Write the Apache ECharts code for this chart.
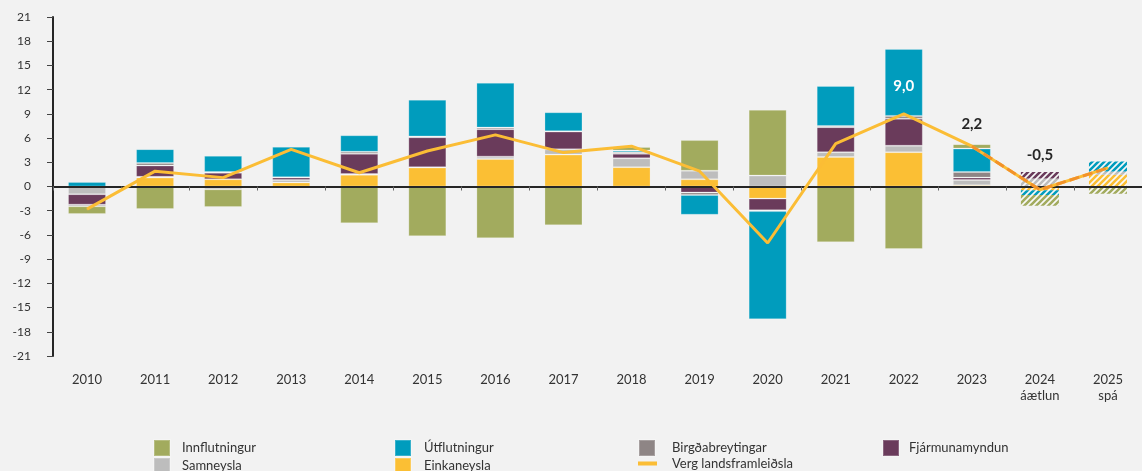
<!DOCTYPE html>
<html>
<head>
<meta charset="utf-8">
<script src="https://cdn.jsdelivr.net/npm/echarts@6/dist/echarts.min.js"></script>
<style>
  html, body { margin: 0; padding: 0; background: #f2f2f2; }
  #chart { width: 1142px; height: 471px; }
</style>
</head>
<body>
<div id="chart"></div>
<script>
const years = ['2010', '2011', '2012', '2013', '2014', '2015', '2016', '2017', '2018', '2019', '2020', '2021', '2022', '2023', '2024', '2025']
const yearNotes = ['', '', '', '', '', '', '', '', '', '', '', '', '', '', 'áætlun', 'spá']

// framlag til hagvaxtar, % stig
const einkaneysla = [0, 1.1, 0.9, 0.5, 1.45, 2.35, 3.4, 3.95, 2.4, 0.9, -1.5, 3.65, 4.25, 0.15, -0.45, 1.45]
const samneysla = [-0.95, 0.1, -0.35, 0.3, 0.1, 0.05, 0.3, 0.65, 1.1, 1.05, 1.35, 0.6, 0.8, 0.65, 1.0, 0.4]
const fjarmunamyndun = [-1.3, 1.4, 0.8, 0.3, 2.5, 3.7, 3.4, 2.2, 0.55, -0.75, -1.45, 3.1, 3.35, 0.3, 0.8, 0]
const birgdabreytingar = [-0.2, 0.3, 0.1, 0.05, 0.25, 0.1, 0.2, 0.05, 0.2, -0.3, -0.1, 0.15, 0.35, 0.7, 0, 0]
const utflutningur = [0.55, 1.73, 2.0, 3.77, 2.05, 4.55, 5.55, 2.35, 0.2, -2.45, -13.4, 4.95, 8.3, 2.9, -0.6, 1.25]
const innflutningur = [-0.95, -2.8, -2.2, -0.25, -4.55, -6.15, -6.4, -4.8, 0.45, 3.8, 8.15, -6.9, -7.75, 0.55, -1.35, -0.9]
const vlf = [-2.8, 1.9, 1.1, 4.6, 1.7, 4.4, 6.4, 4.2, 5.0, 1.9, -7.0, 5.3, 9.0, 5.0, -0.4, 2.3]
const vlfLabels = ['', '', '', '', '', '', '', '', '', '', '', '', '9,0', '2,2', '-0,5', '']

const yTicks = { min: -21, max: 21, step: 3 }

const FONT = 'Lato, "Open Sans", sans-serif'
const colors = {
  innflutningur: '#a2ab5e',
  utflutningur: '#009cbd',
  birgdabreytingar: '#8e8585',
  fjarmunamyndun: '#6a3b5b',
  samneysla: '#bdbdbd',
  einkaneysla: '#fbbf34',
  vlf: '#fbbd35',
}

function hatch(color) {
  // diagonal stripes for the estimate / forecast years
  const s = 6
  const c = document.createElement('canvas')
  c.width = s
  c.height = s
  const g = c.getContext('2d')
  g.fillStyle = '#f8f8f8'
  g.fillRect(0, 0, s, s)
  g.strokeStyle = color
  g.lineWidth = 2.6
  g.beginPath()
  g.moveTo(-1, s + 1); g.lineTo(s + 1, -1)
  g.moveTo(-1, 1); g.lineTo(1, -1)
  g.moveTo(s - 1, s + 1); g.lineTo(s + 1, s - 1)
  g.stroke()
  return { image: c, repeat: 'repeat' }
}

function barSeries(name, values, color) {
  const pattern = hatch(color)
  return {
    name,
    type: 'bar',
    stack: 'framlag',
    xAxisIndex: 0,
    barWidth: 38,
    itemStyle: { color, borderColor: 'rgba(255,255,255,0.22)', borderWidth: 1 },
    data: values.map((v, i) => yearNotes[i]
      ? { value: v, itemStyle: { color: pattern, borderWidth: 0 } }
      : v),
  }
}

const labelOffsets = { '9,0': -20, '2,2': -14, '-0,5': -27 }

function legendText(gap) {
  return { fontFamily: FONT, fontSize: 13, color: '#333', padding: [0, 0, 12, gap] }
}

function legend(name, left, top, extra) {
  return Object.assign({
    data: [name],
    left, top,
    padding: 0,
    icon: 'rect',
    itemWidth: 16,
    itemHeight: 16,
    selectedMode: false,
    textStyle: legendText(7),
  }, extra || {})
}

const chart = echarts.init(document.getElementById('chart'))
chart.setOption({
  backgroundColor: '#f2f2f2',
  animation: false,
  textStyle: { fontFamily: FONT },
  grid: { left: 53, top: 17, width: 1104, height: 339 },
  legend: [
    legend('Innflutningur', 153, 439),
    legend('Samneysla', 153, 457),
    legend('Útflutningur', 394, 439, { textStyle: legendText(8) }),
    legend('Einkaneysla', 394, 457, { textStyle: legendText(8) }),
    legend('Birgðabreytingar', 638, 439, { textStyle: legendText(12) }),
    legend('Verg landsframleiðsla', 638, 457, {
      itemWidth: 19, itemHeight: 4,
      itemStyle: { color: colors.vlf },
      textStyle: { fontFamily: FONT, fontSize: 13, color: '#333', padding: [0, 0, 0, 10] },
    }),
    legend('Fjármunamyndun', 882, 439, { textStyle: legendText(5) }),
  ],
  xAxis: [
    {
      type: 'category',
      data: years.map((y, i) => yearNotes[i] ? y + '\n' + yearNotes[i] : y),
      position: 'bottom',
      axisLine: { show: false, onZero: false },
      axisTick: { show: false },
      axisLabel: { margin: 16, fontSize: 13, lineHeight: 16, color: '#333', interval: 0 },
    },
    {
      type: 'category',
      data: years,
      position: 'bottom',
      axisLine: { show: true, onZero: true, lineStyle: { color: '#262626', width: 2 } },
      axisTick: { show: true, length: 4, lineStyle: { color: '#666', width: 1 } },
      axisLabel: { show: false },
      z: 5,
    },
  ],
  yAxis: {
    type: 'value',
    min: yTicks.min,
    max: yTicks.max,
    interval: yTicks.step,
    splitLine: { show: false },
    axisLine: { show: true, lineStyle: { color: '#262626', width: 2 } },
    axisTick: { show: true, length: 6, lineStyle: { color: '#444', width: 1 } },
    axisLabel: { margin: 22, fontSize: 12, color: '#333' },
  },
  series: [
    barSeries('Einkaneysla', einkaneysla, colors.einkaneysla),
    barSeries('Samneysla', samneysla, colors.samneysla),
    barSeries('Fjármunamyndun', fjarmunamyndun, colors.fjarmunamyndun),
    barSeries('Birgðabreytingar', birgdabreytingar, colors.birgdabreytingar),
    barSeries('Útflutningur', utflutningur, colors.utflutningur),
    barSeries('Innflutningur', innflutningur, colors.innflutningur),
    {
      name: 'Verg landsframleiðsla',
      type: 'line',
      data: vlf.map((v, i) => vlfLabels[i]
        ? {
            value: v,
            label: {
              show: true,
              formatter: vlfLabels[i],
              position: 'top',
              distance: 0,
              offset: [0, labelOffsets[vlfLabels[i]]],
              color: vlfLabels[i] === '9,0' ? '#fff' : '#262626',
              fontWeight: 'bold',
              fontSize: 15,
              fontFamily: FONT,
            },
          }
        : v),
      symbol: 'circle',
      symbolSize: 1,
      showSymbol: true,
      itemStyle: { color: colors.vlf },
      lineStyle: { color: colors.vlf, width: 3 },
      z: 10,
    },
    {
      name: 'spá',
      type: 'line',
      data: vlf.map((v, i) => i >= yearNotes.indexOf('áætlun') - 1 ? v : '-'),
      symbol: 'none',
      lineStyle: { color: '#f2922a', width: 3, type: [10, 4] },
      z: 11,
      silent: true,
    },
  ],
})
</script>
</body>
</html>
